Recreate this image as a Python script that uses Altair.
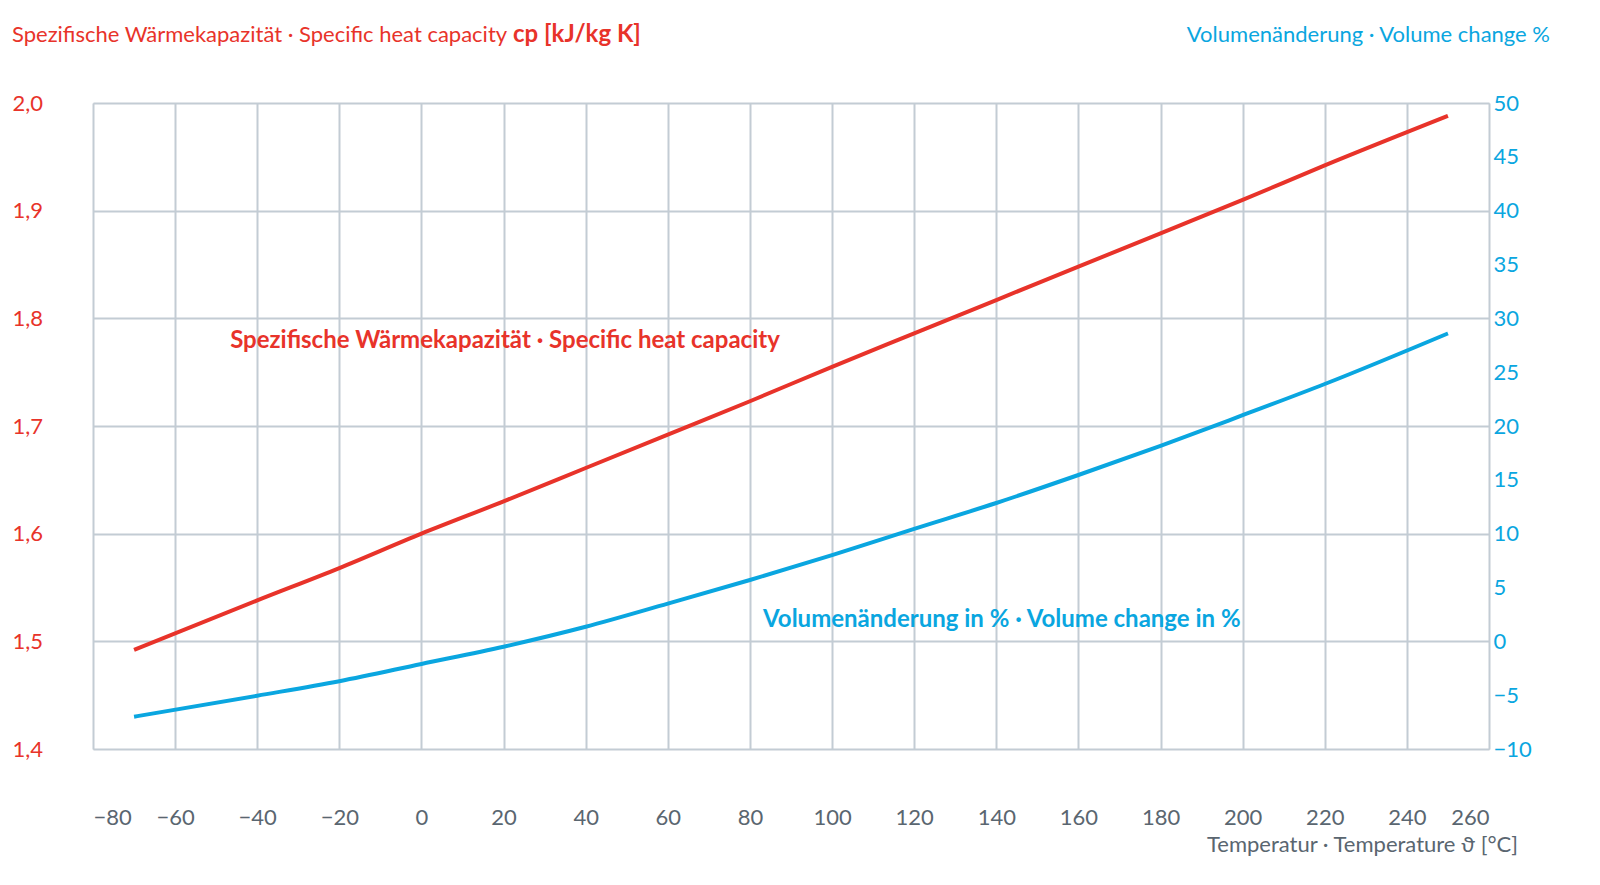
import altair as alt
import pandas as pd

RED = "#e8332a"
BLUE = "#0aa6e0"
GRID = "#c3ccd4"
FONT = "Lato"

temp = [-70, -40, -20, 0, 20, 40, 60, 80, 100, 120, 140, 160, 180, 200, 220, 250]
cp = [1.492, 1.538, 1.568, 1.600, 1.630, 1.661, 1.692, 1.723, 1.755, 1.786,
      1.817, 1.848, 1.879, 1.910, 1.942, 1.988]
vol = [-7.0, -5.05, -3.7, -2.1, -0.5, 1.35, 3.5, 5.7, 8.0, 10.45, 12.85,
       15.45, 18.15, 21.0, 23.9, 28.6]

df = pd.DataFrame({"t": temp, "cp": cp, "vol": vol})

xscale = alt.Scale(domain=[-80, 260], nice=False)
cpscale = alt.Scale(domain=[1.4, 2.0], nice=False)
volscale = alt.Scale(domain=[-10, 50], nice=False)

x = alt.X("t:Q", scale=xscale, title=None,
          axis=alt.Axis(values=list(range(-80, 261, 20)), grid=True, gridColor=GRID,
                        gridWidth=2, domain=False, ticks=False, labelPadding=58,
                        labelFontSize=22, labelColor="#5a6670", labelFont=FONT,
                        labelExpr="replace(datum.label, '-', '−')"))

red = alt.Chart(df).mark_line(color=RED, strokeWidth=4, interpolate="monotone").encode(
    x=x,
    y=alt.Y("cp:Q", scale=cpscale, title=None,
            axis=alt.Axis(values=[1.4, 1.5, 1.6, 1.7, 1.8, 1.9, 2.0], format=".1f",
                          labelExpr="replace(datum.label, '.', ',')",
                          grid=True, gridColor=GRID, gridWidth=2, domain=False, ticks=False,
                          labelAlign="left", labelPadding=81, labelFontSize=22,
                          labelColor=RED, labelFont=FONT)),
)

blue = alt.Chart(df).mark_line(color=BLUE, strokeWidth=4, interpolate="monotone").encode(
    x=x,
    y=alt.Y("vol:Q", scale=volscale, title=None,
            axis=alt.Axis(orient="right", values=list(range(-10, 51, 5)), grid=False,
                          domain=False, ticks=False, labelPadding=4, labelFontSize=22,
                          labelColor=BLUE, labelFont=FONT)),
)

red_lbl = alt.Chart(pd.DataFrame({"t": [-46.6], "cp": [1.779],
                                  "s": ["Spezifische Wärmekapazität · Specific heat capacity"]})
                    ).mark_text(color=RED, fontSize=24, fontWeight="bold", font=FONT,
                                align="left", baseline="middle").encode(
    x=x, y=alt.Y("cp:Q", scale=cpscale, axis=None), text="s:N")

blue_lbl = alt.Chart(pd.DataFrame({"t": [83.2], "vol": [2.0],
                                   "s": ["Volumenänderung in % · Volume change in %"]})
                     ).mark_text(color=BLUE, fontSize=24, fontWeight="bold", font=FONT,
                                 align="left", baseline="middle").encode(
    x=x, y=alt.Y("vol:Q", scale=volscale, axis=None), text="s:N")


def note(s, px, py, color, align="left", weight="normal", size=22):
    return alt.Chart(pd.DataFrame({"s": [s]})).mark_text(
        color=color, fontSize=size, fontWeight=weight, font=FONT, align=align,
        baseline="middle").encode(x=alt.value(px), y=alt.value(py), text="s:N")


titles = [
    note("Spezifische Wärmekapazität · Specific heat capacity", -81, -68, RED),
    note("cp [kJ/kg K]", 420, -68, RED, weight="bold", size=24),
    note("Volumenänderung · Volume change %", 1457, -68, BLUE, align="right"),
    note("Temperatur · Temperature ϑ [°C]", 1425, 742, "#5a6670", align="right"),
]

chart = alt.layer(red, blue, red_lbl, blue_lbl, *titles).resolve_scale(
    y="independent"
).properties(
    width=1396, height=646,
    padding={"left": 85, "top": 95, "right": 80, "bottom": 120},
    autosize=alt.AutoSizeParams(type="none"),
).configure_view(stroke=GRID, strokeWidth=2).configure(background="white")

chart.save("out.html", embed_options={"renderer": "svg", "actions": False})
